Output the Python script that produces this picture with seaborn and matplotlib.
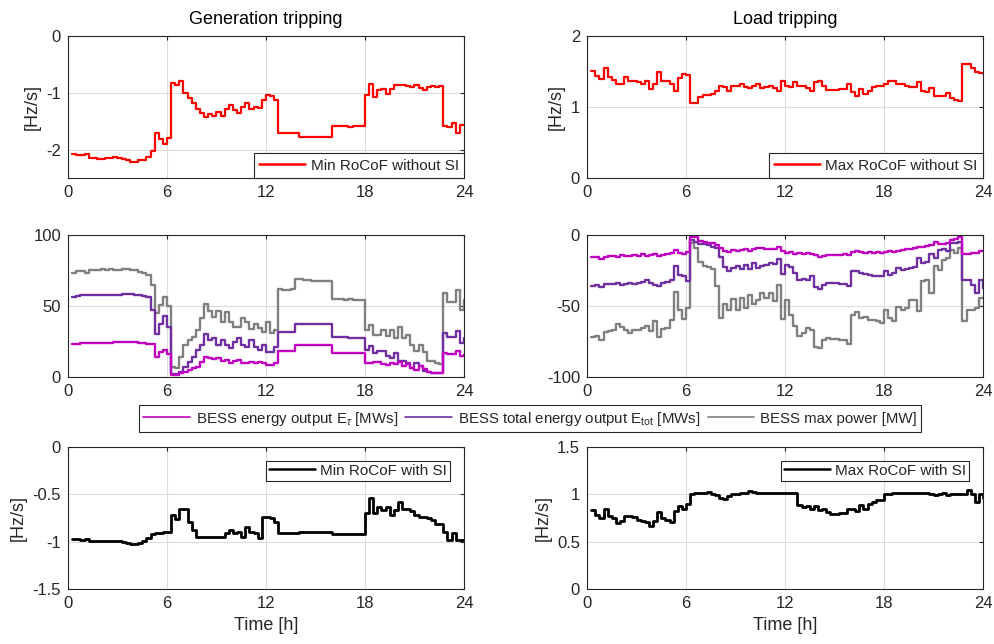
import numpy as np
import pandas as pd
import matplotlib
matplotlib.use("Agg")
import matplotlib.pyplot as plt
from matplotlib.lines import Line2D
import seaborn as sns

# ---------------- data (quarter-hour steps, 0.25 h ... 24 h) ----------------
time_h = np.arange(1, 97) * 0.25

gen_min_rocof_no_si = [
    -2.08, -2.09, -2.10, -2.08, -2.14, -2.15, -2.16, -2.16,
    -2.15, -2.14, -2.13, -2.15, -2.16, -2.18, -2.21, -2.22,
    -2.19, -2.18, -2.13, -2.02, -1.70, -1.81, -1.90, -1.79,
    -0.82, -0.87, -0.80, -1.00, -1.10, -1.18, -1.28, -1.35,
    -1.43, -1.38, -1.40, -1.34, -1.40, -1.29, -1.21, -1.30,
    -1.35, -1.25, -1.18, -1.28, -1.25, -1.27, -1.12, -1.03,
    -1.06, -1.13, -1.70, -1.70, -1.70, -1.70, -1.70, -1.78,
    -1.78, -1.77, -1.77, -1.77, -1.77, -1.77, -1.77, -1.59,
    -1.59, -1.59, -1.59, -1.60, -1.59, -1.59, -1.59, -1.04,
    -0.84, -1.07, -0.95, -0.94, -1.02, -0.94, -0.87, -0.87,
    -0.87, -0.88, -0.90, -0.86, -0.92, -0.95, -0.90, -0.88,
    -0.90, -0.88, -1.59, -1.61, -1.54, -1.71, -1.56, -1.56]

load_max_rocof_no_si = [
    1.51, 1.44, 1.40, 1.55, 1.42, 1.38, 1.32, 1.32,
    1.42, 1.36, 1.36, 1.35, 1.32, 1.36, 1.26, 1.33,
    1.49, 1.37, 1.36, 1.33, 1.23, 1.41, 1.46, 1.45,
    1.06, 1.05, 1.14, 1.17, 1.17, 1.18, 1.22, 1.29,
    1.28, 1.23, 1.30, 1.29, 1.33, 1.28, 1.27, 1.30,
    1.33, 1.27, 1.28, 1.29, 1.27, 1.23, 1.36, 1.30,
    1.28, 1.35, 1.30, 1.29, 1.27, 1.22, 1.35, 1.37,
    1.30, 1.24, 1.24, 1.24, 1.25, 1.26, 1.33, 1.21,
    1.16, 1.26, 1.19, 1.22, 1.28, 1.30, 1.30, 1.32,
    1.36, 1.36, 1.33, 1.32, 1.30, 1.28, 1.28, 1.35,
    1.22, 1.21, 1.27, 1.16, 1.16, 1.16, 1.20, 1.12,
    1.10, 1.08, 1.60, 1.60, 1.55, 1.49, 1.48, 1.48]

gen_bess_pmax = [
    73, 74.5, 74.5, 73, 75, 75.4, 75.4, 75.8,
    75, 75.8, 75.4, 75.4, 75.8, 75.8, 75.4, 75,
    74, 73.5, 72, 65, 45, 51, 56, 50,
    7, 6.5, 14.3, 22.5, 26, 28.4, 33, 41.3,
    51.4, 46.7, 42.5, 46.7, 39, 46, 39, 35.4,
    35, 41.3, 39, 33.6, 37.3, 34.3, 32, 39,
    30.8, 33, 61.7, 61.3, 61.3, 61.7, 68.8, 68.8,
    68.3, 68.3, 67.8, 67.8, 67.8, 67.8, 67.8, 54.7,
    54.7, 54.7, 54.2, 54.7, 54.2, 54.2, 54.0, 33.3,
    36.8, 29.8, 29.8, 33, 29, 33, 27.5, 35,
    27.5, 29.8, 22.8, 18, 22.8, 17.5, 11.2, 11,
    10, 8.9, 59, 53, 53, 61.3, 47.3, 54]

gen_bess_etot = [
    56.6, 57.2, 57.7, 57.5, 57.7, 57.7, 57.9, 57.9,
    58, 57.9, 58, 58, 58.2, 58.2, 58.2, 57.7,
    57.5, 57, 56.6, 47, 30.3, 37.3, 42.9, 35.4,
    2, 2, 3.8, 7.3, 10.8, 13.8, 19, 22.5,
    30.3, 26, 27.2, 22.5, 26, 22.5, 20.2, 24.9,
    27.2, 22.5, 21.4, 26, 21.4, 19, 22.5, 17.8,
    17.8, 21.4, 31.9, 31.9, 31.9, 31.9, 37.3, 37.3,
    37.3, 37.3, 37.3, 37.3, 37.3, 37.3, 37.3, 28,
    28, 28, 28, 27.5, 27.5, 27.5, 27.5, 19.3,
    21.7, 17, 18.5, 18.2, 14.7, 13.5, 17, 11.2,
    11.5, 9.6, 6.5, 10, 7.7, 4.2, 3.5, 3,
    2.8, 2.6, 31, 28, 28, 32.2, 24, 27.5]

gen_bess_etau = [
    23.2, 23.5, 23.7, 23.7, 23.9, 24, 24, 24.2,
    24.2, 24.2, 24.4, 24.4, 24.4, 24.5, 24.5, 24.3,
    24.2, 24, 23.5, 23, 14.3, 17.8, 19, 16.2,
    1.4, 1.4, 3, 3.8, 4.9, 6.1, 7.3, 10.8,
    14.3, 13.1, 12.4, 13.1, 11.5, 12, 9.6, 11.3,
    12, 9.6, 9.6, 10.8, 9.6, 10.8, 9.6, 8.5,
    8.5, 10.1, 18.5, 18.5, 18.5, 18.5, 22.5, 22.5,
    22.5, 22.5, 22.5, 22.5, 22.5, 22.5, 22.5, 16.7,
    16.7, 16.7, 16.7, 16.7, 16.7, 16.7, 16.7, 10,
    9.6, 10.5, 10.5, 8.9, 8.2, 9.6, 9.4, 10.5,
    7.7, 8.9, 6.5, 4.7, 7.7, 5.8, 3.5, 3,
    3, 2.6, 17, 16.5, 16.5, 18.2, 14.7, 15.2]

load_bess_etau = [
    -15.7, -15.7, -17, -15.2, -14.7, -14.7, -15.2, -14,
    -14.7, -14.7, -14, -14.7, -13.3, -14.7, -14, -13.3,
    -14.7, -14, -13.3, -12.4, -10.5, -12.9, -13.3, -11.7,
    -1.2, -1.2, -4, -4.7, -5.4, -5.8, -7, -9.3,
    -11, -11.7, -10.5, -11, -10.5, -10, -11, -10,
    -9.3, -9.3, -10, -10, -10, -8.6, -11, -12.4,
    -11.7, -13.3, -12.9, -13.3, -12.4, -13.3, -14, -15.2,
    -14.7, -14, -14, -14, -14, -13.3, -14, -11.7,
    -11, -11.7, -12.4, -11.7, -12.4, -11.7, -12.4, -11.7,
    -11, -11.7, -11, -10.5, -10, -10, -9.3, -8.6,
    -8.6, -7.7, -7, -4.7, -6.3, -6.3, -5.8, -3.5,
    -3, -1.6, -13.3, -13.3, -12.4, -12.9, -11, -11]

load_bess_etot = [
    -35.7, -35, -36.7, -34.3, -34.3, -34.3, -33.9, -35,
    -34.3, -33.9, -34.3, -33.9, -33.4, -31.5, -33.9, -35,
    -35.7, -33.9, -33.4, -31.5, -21.7, -28, -29.2, -32.7,
    -3.5, -4.7, -6.3, -6.3, -7, -8.2, -9.3, -15.2,
    -22.2, -25.7, -23.4, -21.7, -24, -21, -24, -19.9,
    -23.4, -21.7, -21, -19.9, -20.3, -17, -27.3, -21,
    -22.2, -26.9, -31.5, -31.1, -31.5, -29.2, -36.7, -38,
    -35, -33.9, -33.9, -33.9, -34.3, -34.3, -36.2, -25.7,
    -25.7, -26.9, -27.3, -28, -28.7, -28.7, -29.2, -25.7,
    -28, -26.9, -23.4, -24.5, -24, -23.4, -22.2, -16.4,
    -19.9, -18.7, -13.3, -16.4, -10.5, -10, -11, -5.8,
    -5.4, -4.7, -31.5, -31.5, -35, -40.9, -31.5, -37.4]

load_bess_pmax = [
    -71.7, -71.3, -74, -68.5, -67.8, -66.6, -63, -64.7,
    -67, -69, -66.6, -66.6, -65.4, -63.8, -67.3, -60.7,
    -71.7, -66, -65.4, -59.6, -40.4, -52.6, -59, -51.4,
    -5.8, -9.3, -18.7, -21.7, -22.7, -24, -36.2, -58.4,
    -48.4, -52.6, -45, -52.6, -44.4, -51.4, -42, -48.4,
    -45.6, -40.9, -44.4, -40.9, -46.7, -35, -59, -46,
    -56, -64.3, -71.3, -69, -65.4, -66.6, -78.7, -79.4,
    -73.6, -72.4, -73.1, -73.1, -73.6, -74, -77, -56,
    -54.4, -58.4, -57.7, -59.6, -60, -60.7, -62, -52.6,
    -58.4, -60.7, -50.7, -52.6, -51.4, -45.6, -45.6, -53.7,
    -32.7, -31.5, -40.9, -21.7, -24.5, -17.5, -16.4, -10.5,
    -12.9, -9.3, -60.7, -52.6, -52.6, -51.4, -44.4, -44.4]

gen_min_rocof_si = [
    -0.975, -0.975, -0.98, -0.97, -0.99, -0.99, -0.99, -0.99,
    -0.99, -0.99, -0.99, -0.99, -1.0, -1.01, -1.02, -1.02,
    -1.01, -0.99, -0.96, -0.92, -0.91, -0.91, -0.90, -0.90,
    -0.72, -0.76, -0.66, -0.66, -0.79, -0.88, -0.95, -0.95,
    -0.95, -0.95, -0.95, -0.95, -0.95, -0.905, -0.88, -0.905,
    -0.90, -0.955, -0.84, -0.895, -0.91, -0.965, -0.74, -0.74,
    -0.755, -0.79, -0.905, -0.905, -0.905, -0.905, -0.905, -0.90,
    -0.90, -0.90, -0.90, -0.90, -0.90, -0.90, -0.90, -0.92,
    -0.92, -0.92, -0.92, -0.92, -0.92, -0.92, -0.92, -0.70,
    -0.54, -0.70, -0.63, -0.67, -0.63, -0.72, -0.67, -0.58,
    -0.65, -0.66, -0.68, -0.72, -0.74, -0.74, -0.755, -0.77,
    -0.81, -0.81, -0.90, -0.98, -0.91, -0.98, -0.98, -0.98]

load_max_rocof_si = [
    0.83, 0.78, 0.75, 0.84, 0.77, 0.75, 0.70, 0.72,
    0.77, 0.77, 0.76, 0.73, 0.72, 0.71, 0.67, 0.72,
    0.81, 0.75, 0.73, 0.71, 0.82, 0.88, 0.85, 0.90,
    1.00, 1.01, 1.01, 1.01, 1.02, 1.00, 0.99, 0.96,
    0.95, 0.98, 1.00, 1.00, 1.01, 1.01, 1.04, 1.02,
    1.01, 1.01, 1.01, 1.01, 1.01, 1.01, 1.01, 1.01,
    1.01, 1.01, 0.89, 0.87, 0.88, 0.84, 0.88, 0.83,
    0.84, 0.81, 0.79, 0.79, 0.80, 0.80, 0.84, 0.84,
    0.82, 0.89, 0.85, 0.90, 0.92, 0.94, 0.94, 1.00,
    1.00, 1.01, 1.01, 1.01, 1.01, 1.01, 1.01, 1.01,
    1.01, 1.01, 1.00, 0.99, 1.00, 1.01, 0.99, 1.00,
    1.00, 1.00, 1.00, 1.05, 1.00, 0.92, 1.00, 0.96]

titles = ["Generation tripping", "Load tripping"]
bess_labels = [r"BESS energy output E$_{\tau}$ [MWs]",
               r"BESS total energy output E$_{\rm tot}$ [MWs]",
               "BESS max power [MW]"]
x_ticks = [0, 6, 12, 18, 24]

# ---------------- style ----------------
sns.set_style("white")
plt.rcParams["font.family"] = ["Liberation Sans", "DejaVu Sans"]
plt.rcParams["axes.unicode_minus"] = False
plt.rcParams["mathtext.fontset"] = "custom"
plt.rcParams["mathtext.rm"] = "Liberation Sans"
plt.rcParams["mathtext.it"] = "Liberation Sans:italic"

C_RED = "#ff0000"
C_MAG = "#c000c0"
C_PUR = "#7030a0"
C_GRAY = "#808080"
AX_C = "#262626"

fig = plt.figure(figsize=(9.95, 6.44), dpi=100)
lefts = [68 / 995, 587 / 995]
W = 396 / 995
bottoms = [1 - 178 / 644, 1 - 377 / 644, 1 - 589 / 644]
H = 142 / 644
axes = [[fig.add_axes([l, b, W, H]) for l in lefts] for b in bottoms]


def style(ax, yticks, ylim, ylabels=None):
    ax.set_xlim(0, 24)
    ax.set_ylim(*ylim)
    ax.set_xticks(x_ticks)
    ax.set_yticks(yticks)
    if ylabels is not None:
        ax.set_yticklabels(ylabels)
    ax.grid(True, color="#dcdcdc", linewidth=0.8)
    ax.set_axisbelow(True)
    for s in ax.spines.values():
        s.set_color(AX_C)
        s.set_linewidth(0.8)
    ax.tick_params(direction="in", length=3, width=0.8, colors=AX_C,
                   labelsize=12, top=True, right=True, labeltop=False,
                   labelright=False, pad=5)
    ax.set_xlabel("")
    ax.set_ylabel("")


def leg(ax, label, color, loc, bpad, bpd):
    h = [Line2D([], [], color=color, lw=1.8)]
    lg = ax.legend(h, [label], loc=loc, fontsize=11, frameon=True,
                   fancybox=False, edgecolor=AX_C, framealpha=1,
                   borderaxespad=bpad, handlelength=3.0, borderpad=bpd,
                   handletextpad=0.35)
    lg.get_frame().set_linewidth(0.8)


# Row 1
ax = axes[0][0]
sns.lineplot(x=time_h, y=gen_min_rocof_no_si, ax=ax, color=C_RED, lw=1.6,
             drawstyle="steps-post", estimator=None)
style(ax, [-2, -1, 0], (-2.5, 0), ["-2", "-1", "0"])
ax.set_ylabel("[Hz/s]", fontsize=13, color=AX_C)
ax.set_title(titles[0], fontsize=13, color="black", pad=9)
leg(ax, "Min RoCoF without SI", C_RED, "lower right", 0, 0.35)

ax = axes[0][1]
sns.lineplot(x=time_h, y=load_max_rocof_no_si, ax=ax, color=C_RED, lw=1.6,
             drawstyle="steps-post", estimator=None)
style(ax, [0, 1, 2], (0, 2), ["0", "1", "2"])
ax.set_ylabel("[Hz/s]", fontsize=13, color=AX_C)
ax.set_title(titles[1], fontsize=13, color="black", pad=9)
leg(ax, "Max RoCoF without SI", C_RED, "lower right", 0, 0.35)

# Row 2
palette = {bess_labels[0]: C_MAG, bess_labels[1]: C_PUR, bess_labels[2]: C_GRAY}
gen_df = pd.DataFrame({
    "t": np.tile(time_h, 3),
    "v": gen_bess_etau + gen_bess_etot + gen_bess_pmax,
    "s": np.repeat(bess_labels, 96)})
load_df = pd.DataFrame({
    "t": np.tile(time_h, 3),
    "v": load_bess_etau + load_bess_etot + load_bess_pmax,
    "s": np.repeat(bess_labels, 96)})

ax = axes[1][0]
sns.lineplot(data=gen_df, x="t", y="v", hue="s", hue_order=bess_labels[::-1],
             palette=palette, ax=ax, lw=1.7, drawstyle="steps-post",
             estimator=None, legend=False)
style(ax, [0, 50, 100], (0, 100), ["0", "50", "100"])

ax = axes[1][1]
sns.lineplot(data=load_df, x="t", y="v", hue="s", hue_order=bess_labels[::-1],
             palette=palette, ax=ax, lw=1.7, drawstyle="steps-post",
             estimator=None, legend=False)
style(ax, [-100, -50, 0], (-100, 0), ["-100", "-50", "0"])

handles = [Line2D([], [], color=palette[l], lw=1.2) for l in bess_labels]
flg = fig.legend(handles, bess_labels, loc="center",
                 bbox_to_anchor=(530 / 995, 1 - 418.5 / 644), ncol=3,
                 fontsize=10.8, frameon=True, fancybox=False, edgecolor=AX_C,
                 framealpha=1, handlelength=3.1, columnspacing=0.5,
                 handletextpad=0.4, borderpad=0.3)
flg.get_frame().set_linewidth(0.8)

# Row 3
ax = axes[2][0]
sns.lineplot(x=time_h, y=gen_min_rocof_si, ax=ax, color="black", lw=2.0,
             drawstyle="steps-post", estimator=None)
style(ax, [-1.5, -1, -0.5, 0], (-1.5, 0), ["-1.5", "-1", "-0.5", "0"])
ax.set_ylabel("[Hz/s]", fontsize=13, color=AX_C)
ax.set_xlabel("Time [h]", fontsize=13, color=AX_C)
leg(ax, "Min RoCoF with SI", "black", "upper right", 0.9, 0.2)

ax = axes[2][1]
sns.lineplot(x=time_h, y=load_max_rocof_si, ax=ax, color="black", lw=2.0,
             drawstyle="steps-post", estimator=None)
style(ax, [0, 0.5, 1, 1.5], (0, 1.5), ["0", "0.5", "1", "1.5"])
ax.set_ylabel("[Hz/s]", fontsize=13, color=AX_C)
ax.set_xlabel("Time [h]", fontsize=13, color=AX_C)
leg(ax, "Max RoCoF with SI", "black", "upper right", 0.9, 0.2)

fig.savefig("out.png", dpi=100, facecolor="white")
